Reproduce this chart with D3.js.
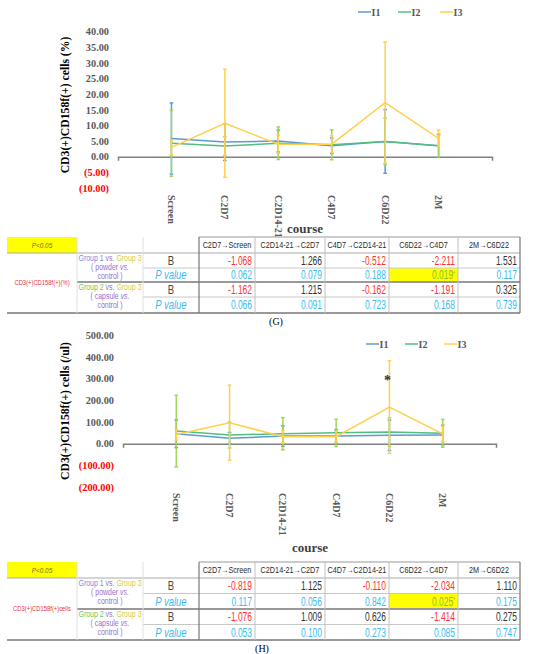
<!DOCTYPE html>
<html>
<head>
<meta charset="utf-8">
<script src="https://cdn.jsdelivr.net/npm/d3@7"></script>
<style>
body {margin: 0; background: #fff}
svg {display: block}
</style>
</head>
<body>
<svg></svg>
<script>
let courses = ["Screen", "C2D7", "C2D14-21", "C4D7", "C6D22", "2M"]
let seriesNames = ["I1", "I2", "I3"]

// (G) CD3(+)CD158f(+) cells (%) : mean and SD per course
let gI1Mean = [5.8, 4.7, 5.0, 3.5, 4.9, 3.5]
let gI2Mean = [4.3, 3.4, 4.3, 3.8, 4.9, 3.5]
let gI3Mean = [3.0, 10.7, 4.0, 4.0, 17.3, 5.9]
let gI1Sd = [11.4, 5.9, 3.5, 2.5, 10.2, 3.7]
let gI2Sd = [10.6, 3.0, 5.2, 4.8, 7.4, 3.5]
let gI3Sd = [2.3, 17.3, 2.9, 2.7, 19.4, 2.6]
let gTicks = [40, 35, 30, 25, 20, 15, 10, 5, 0, -5, -10]

// (H) CD3(+)CD158f(+) cells (/ul)
let hI1Mean = [46, 25, 35, 35, 39, 40]
let hI2Mean = [58, 40, 46, 50, 54, 48]
let hI3Mean = [42, 97, 32, 32, 169, 45]
let hI1Sd = [64, 27, 47, 30, 70, 45]
let hI2Sd = [165, 60, 74, 63, 66, 64]
let hI3Sd = [25, 173, 28, 25, 213, 35]
let hTicks = [500, 400, 300, 200, 100, 0, -100, -200]
let hStar = {course: "C6D22", value: 310}

// regression tables
let transitions = ["C2D7\u2192Screen", "C2D14-21\u2192C2D7", "C4D7\u2192C2D14-21", "C6D22\u2192C4D7", "2M\u2192C6D22"]
let gB1 = [-1.068, 1.266, -0.512, -2.211, 1.531]
let gP1 = [0.062, 0.079, 0.188, 0.019, 0.117]
let gB2 = [-1.162, 1.215, -0.162, -1.191, 0.325]
let gP2 = [0.066, 0.091, 0.723, 0.168, 0.739]
let hB1 = [-0.819, 1.125, -0.110, -2.034, 1.110]
let hP1 = [0.117, 0.056, 0.842, 0.025, 0.175]
let hB2 = [-1.076, 1.009, 0.626, -1.414, 0.275]
let hP2 = [0.053, 0.100, 0.273, 0.085, 0.747]

let lineColors = ["#5B9BD5", "#52BE80", "#FFD04A"]
let barColors = ["#5B9BD5", "#A2D45E", "#FFD04A"]
let serif = "'Liberation Serif', 'Times New Roman', serif"
let sans = "'Liberation Sans', Arial, sans-serif"

var svg = d3.select("svg")
    .attr("width", 550)
    .attr("height", 654)

function tickText(v) {
    return v < 0 ? `(${Math.abs(v).toFixed(2)})` : v.toFixed(2)
}

function drawChart(o) {
    let scX = d3.scaleLinear()
        .domain([0, courses.length + 1])
        .range([o.left, o.right])
    let scY = d3.scaleLinear()
        .domain(o.domain)
        .range(o.yRange)
    let g = svg.append("g")

    // y tick labels only, no axis line
    let yAxis = d3.axisLeft(scY)
        .tickValues(o.ticks)
        .tickSize(0)
        .tickPadding(0)
        .tickFormat(tickText)
    g.append("g")
        .attr("transform", `translate(${o.tickX},0)`)
        .call(yAxis)
        .call(a => a.select(".domain").remove())
        .selectAll("text")
        .attr("font-family", serif)
        .attr("font-weight", "bold")
        .attr("font-size", 10.3)
        .attr("fill", d => d < 0 ? "#FF0000" : "#595959")

    // horizontal category axis at y = 0
    let xAxis = d3.axisBottom(scX).tickValues([]).tickSizeOuter(4)
    g.append("g")
        .attr("transform", `translate(0,${scY(0)})`)
        .call(xAxis)
        .select(".domain")
        .attr("stroke", "#808080")
        .attr("stroke-width", 1.5)

    // series lines + error bars
    o.means.forEach((m, s) => {
        let line = d3.line()
            .x((d, i) => scX(i + 1))
            .y(d => scY(d))
        g.append("path")
            .datum(m)
            .attr("fill", "none")
            .attr("stroke", lineColors[s])
            .attr("stroke-width", 1.5)
            .attr("d", line)

        let bars = g.append("g").attr("stroke", barColors[s]).attr("stroke-width", 1.5)
        m.forEach((d, i) => {
            let hi = scY(d + o.sds[s][i]), lo = scY(d - o.sds[s][i]), cx = scX(i + 1)
            bars.append("line").attr("x1", cx).attr("x2", cx).attr("y1", hi).attr("y2", lo)
            bars.append("line").attr("x1", cx - 1.8).attr("x2", cx + 1.8).attr("y1", hi).attr("y2", hi)
            bars.append("line").attr("x1", cx - 1.8).attr("x2", cx + 1.8).attr("y1", lo).attr("y2", lo)
        })
    })

    // category labels, rotated
    g.selectAll(".cat")
        .data(courses).enter().append("text")
        .attr("transform", (d, i) => `translate(${scX(i + 1)},${o.catY}) rotate(90)`)
        .attr("dy", "0.35em")
        .attr("font-family", serif)
        .attr("font-weight", "bold")
        .attr("font-size", 10)
        .attr("fill", "#595959")
        .text(d => d)

    g.append("text")
        .attr("x", o.courseX).attr("y", o.courseY)
        .attr("text-anchor", "middle")
        .attr("font-family", serif).attr("font-weight", "bold")
        .attr("font-size", 13).attr("fill", "#404040")
        .text("course")

    g.append("text")
        .attr("transform", `translate(${o.titleX},${o.titleY}) rotate(-90)`)
        .attr("text-anchor", "middle")
        .attr("dy", "0.35em")
        .attr("font-family", serif).attr("font-weight", "bold")
        .attr("font-size", 11.7).attr("fill", "#000")
        .text(o.title)

    // legend
    seriesNames.forEach((n, s) => {
        let lx = o.legendX[s]
        g.append("line")
            .attr("x1", lx).attr("x2", lx + 13)
            .attr("y1", o.legendY).attr("y2", o.legendY)
            .attr("stroke", lineColors[s]).attr("stroke-width", 1.5)
        g.append("text")
            .attr("x", lx + 13.5).attr("y", o.legendY).attr("dy", "0.35em")
            .attr("font-family", serif).attr("font-weight", "bold")
            .attr("font-size", 10).attr("fill", "#595959")
            .text(n)
    })

    if (o.star) {
        g.append("text")
            .attr("x", scX(courses.indexOf(o.star.course) + 1) - 2)
            .attr("y", scY(o.star.value)).attr("dy", "0.6em")
            .attr("text-anchor", "middle")
            .attr("font-family", serif).attr("font-weight", "bold")
            .attr("font-size", 14).attr("fill", "#333")
            .text("*")
    }
}

let colX = [7, 77, 143, 199, 255, 325, 389, 458, 520]

// the table in the figure is horizontally squeezed, so text is scaled in x
function cell(t, x, y, k) {
    return t.append("text")
        .attr("transform", `translate(${x},${y}) scale(${k},1)`)
        .attr("dy", "0.35em")
        .attr("font-family", sans)
}

function drawTable(o) {
    let t = svg.append("g")
    let r = o.rows
    let mid = (a, b) => (a + b) / 2

    // highlighted cells first
    t.append("rect")
        .attr("x", colX[0]).attr("y", r[0])
        .attr("width", colX[1] - colX[0]).attr("height", r[1] - r[0])
        .attr("fill", "#FFFF00")
    let body = [o.b1, o.p1, o.b2, o.p2]
    body.forEach((vals, k) => {
        if (k % 2 == 1) vals.forEach((v, c) => {
            if (v < 0.05) t.append("rect")
                .attr("x", colX[c + 3]).attr("y", r[k + 1])
                .attr("width", colX[c + 4] - colX[c + 3]).attr("height", r[k + 2] - r[k + 1])
                .attr("fill", "#FFFF00")
        })
    })

    let ln = (x1, y1, x2, y2, col, w) => t.append("line")
        .attr("x1", x1).attr("y1", y1).attr("x2", x2).attr("y2", y2)
        .attr("stroke", col).attr("stroke-width", w)
    // borders
    ln(colX[3], r[0], colX[8], r[0], "#999", 1)
    ln(colX[0], r[1], colX[8], r[1], "#aaa", 1)
    ln(colX[2], r[2], colX[8], r[2], "#c8c8c8", 1)
    ln(colX[1], r[3], colX[8], r[3], "#999", 2)
    ln(colX[2], r[4], colX[8], r[4], "#c8c8c8", 1)
    ln(colX[0], r[5], colX[8], r[5], "#777", 1.5)
    ln(colX[1], r[0], colX[1], r[5], "#e0e0e0", 1)
    ln(colX[2], r[0], colX[2], r[5], "#e0e0e0", 1)
    ln(colX[3], r[0], colX[3], r[5], "#777", 1.2)
    ln(colX[8], r[0], colX[8], r[5], "#777", 1.2)
    for (let c = 4; c < 8; c++) ln(colX[c], r[0], colX[c], r[5], "#c0c0c0", 1)

    cell(t, mid(colX[0], colX[1]), mid(r[0], r[1]), 0.85)
        .attr("text-anchor", "middle")
        .attr("font-style", "italic").attr("font-size", 7.5).attr("fill", "#7a6a20")
        .text("P<0.05")

    transitions.forEach((h, c) => {
        cell(t, mid(colX[c + 3], colX[c + 4]), mid(r[0], r[1]), 0.74)
            .attr("text-anchor", "middle")
            .attr("font-size", 9.8).attr("fill", "#2a2a2a")
            .text(h)
    })

    cell(t, mid(colX[0], colX[1]), mid(r[1], r[5]), 0.9)
        .attr("text-anchor", "middle")
        .attr("font-size", 6.5).attr("fill", "#E8323C")
        .text(o.label)

    // group descriptions
    let groups = [
        {name: "Group 1", col: "#7B8BE0", kind: "powder", top: r[1]},
        {name: "Group 2", col: "#66CC66", kind: "capsule", top: r[3]}
    ]
    groups.forEach(gr => {
        let cx = mid(colX[1], colX[2])
        let l1 = cell(t, cx, gr.top + 5.5, 0.85)
            .attr("text-anchor", "middle").attr("font-size", 8.2)
        l1.append("tspan").attr("fill", gr.col).text(gr.name)
        l1.append("tspan").attr("fill", "#9A7AC8").text(" vs. ")
        l1.append("tspan").attr("fill", "#D0CC50").text("Group 3")
        let l2 = cell(t, cx, gr.top + 14.5, 0.85)
            .attr("text-anchor", "middle").attr("font-size", 8.2)
            .attr("fill", "#9A6FCC")
        l2.append("tspan").text(`( ${gr.kind} `)
        l2.append("tspan").attr("font-style", "italic").text("vs.")
        cell(t, cx, gr.top + 23.5, 0.85)
            .attr("text-anchor", "middle").attr("font-size", 8.2)
            .attr("fill", "#9A6FCC")
            .text("control )")
    })

    body.forEach((vals, k) => {
        let cy = mid(r[k + 1], r[k + 2])
        let isP = k % 2 == 1
        cell(t, mid(colX[2], colX[3]), cy, isP ? 0.76 : 0.8)
            .attr("text-anchor", "middle")
            .attr("font-size", isP ? 12.5 : 12)
            .attr("font-style", isP ? "italic" : "normal")
            .attr("fill", isP ? "#38BDF0" : "#444")
            .text(isP ? "P value" : "B")
        vals.forEach((v, c) => {
            let sig = isP && v < 0.05
            cell(t, colX[c + 4] - 3, cy, 0.66)
                .attr("text-anchor", "end")
                .attr("font-size", 12.8)
                .attr("fill", sig ? "#8DBA3A" : isP ? "#38BDF0" : v < 0 ? "#FF3030" : "#333")
                .text(v.toFixed(3))
                .append("tspan").attr("font-size", 7.5).attr("dy", "-0.5em")
                .text(sig ? "*" : "")
        })
    })

    t.append("text")
        .attr("x", o.capX).attr("y", o.capY).attr("dy", "0.35em")
        .attr("text-anchor", "middle").attr("font-family", serif)
        .attr("font-size", 10).attr("fill", "#000")
        .text(o.caption)
}

drawChart({
    left: 118, right: 492,
    domain: [-10, 40], yRange: [187.95, 31.7],
    ticks: gTicks, tickX: 109,
    means: [gI1Mean, gI2Mean, gI3Mean],
    sds: [gI1Sd, gI2Sd, gI3Sd],
    catY: 195, courseX: 305, courseY: 233,
    title: "CD3(+)CD158f(+) cells (%)", titleX: 65, titleY: 105,
    legendX: [358, 398, 440], legendY: 12
})

drawTable({
    rows: [237, 253, 268, 282, 297, 313],
    b1: gB1, p1: gP1, b2: gB2, p2: gP2,
    label: "CD3(+)CD158f(+)(%)",
    caption: "(G)", capX: 276, capY: 321
})

drawChart({
    left: 123, right: 496,
    domain: [-200, 500], yRange: [487.1, 335.2],
    ticks: hTicks, tickX: 114,
    means: [hI1Mean, hI2Mean, hI3Mean],
    sds: [hI1Sd, hI2Sd, hI3Sd],
    catY: 493, courseX: 310, courseY: 552,
    title: "CD3(+)CD158f(+) cells (/ul)", titleX: 65, titleY: 411,
    legendX: [366, 405, 444], legendY: 344,
    star: hStar
})

drawTable({
    rows: [562, 578, 593.5, 609, 624.5, 640],
    b1: hB1, p1: hP1, b2: hB2, p2: hP2,
    label: "CD3(+)CD158f(+)cells",
    caption: "(H)", capX: 262, capY: 648
})
</script>
</body>
</html>
